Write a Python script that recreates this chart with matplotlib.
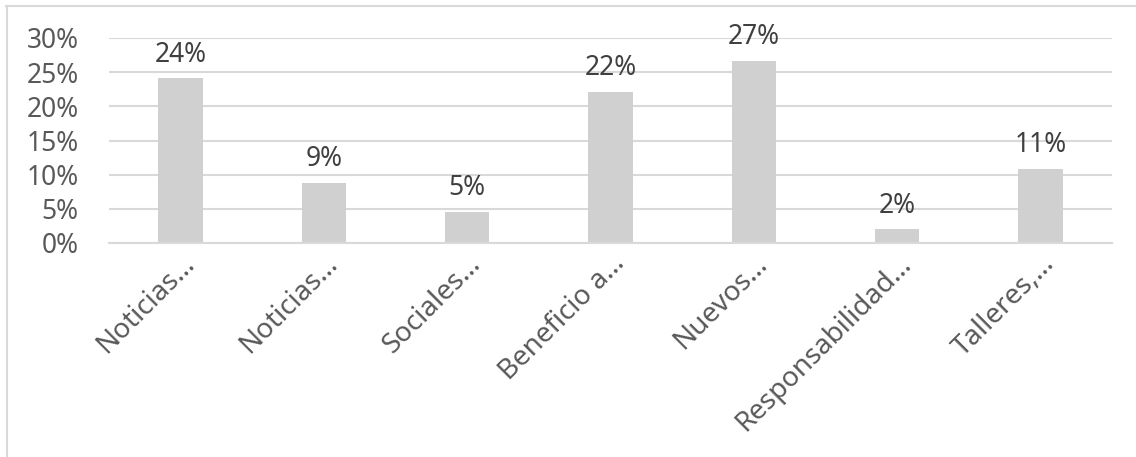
import matplotlib.pyplot as plt
from matplotlib.lines import Line2D

categories = ["Noticias…", "Noticias…", "Sociales…", "Beneficio a…",
              "Nuevos…", "Responsabilidad…", "Talleres,…"]
values = [24.1, 8.8, 4.6, 22.1, 26.7, 2.0, 10.9]
y_ticks = [0, 5, 10, 15, 20, 25, 30]

plt.rcParams["font.family"] = ["Noto Sans", "DejaVu Sans"]

fig = plt.figure(figsize=(11.36, 4.57), dpi=100)
ax = fig.add_axes([109 / 1136, 1 - 243 / 457, 1003 / 1136, 205 / 457])

x = range(len(categories))
bars = ax.bar(x, values, width=0.31, color="#d0d0d0", zorder=2)

for rect, v in zip(bars, values):
    ax.annotate(f"{v:.0f}%", (rect.get_x() + rect.get_width() / 2, v),
                xytext=(0, 7), textcoords="offset points",
                ha="center", va="bottom", fontsize=19, color="#404040")

ax.set_xlim(-0.5, len(categories) - 0.5)
ax.set_ylim(0, 30)
ax.set_yticks(y_ticks)
ax.set_yticklabels([f"{t}%" for t in y_ticks], fontsize=19, color="#595959")
ax.set_xticks(list(x))
ax.set_xticklabels(categories, rotation=45, ha="right", va="top",
                   rotation_mode="anchor", fontsize=20, color="#595959")
ax.tick_params(length=0)
ax.tick_params(axis="y", pad=22)
ax.tick_params(axis="x", pad=5)

ax.grid(axis="y", color="#d9d9d9", linewidth=1.5, zorder=0)
for side in ["top", "right", "left"]:
    ax.spines[side].set_visible(False)
ax.spines["bottom"].set_color("#d9d9d9")
ax.spines["bottom"].set_linewidth(1.5)

# chart frame: only the top and left edges show
fig.add_artist(Line2D([6 / 1136, 1.0], [1 - 5.5 / 457] * 2,
                      color="#d9d9d9", linewidth=1.5))
fig.add_artist(Line2D([6.5 / 1136] * 2, [0, 1 - 5.5 / 457],
                      color="#d9d9d9", linewidth=1.5))

fig.savefig("out.png", dpi=100)
